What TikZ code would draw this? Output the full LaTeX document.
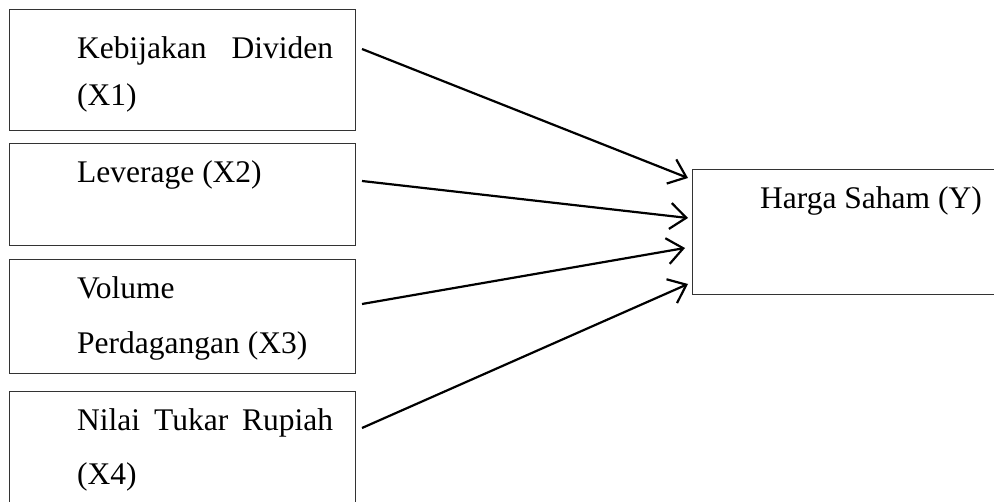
\documentclass[tikz,border=0pt]{standalone}
\usepackage{fontspec}
\setmainfont{Liberation Serif}
\usetikzlibrary{arrows.meta}
\begin{document}
\begin{tikzpicture}[x=1pt,y=-1pt,
  box/.style={draw=black!80, line width=1.3pt, inner sep=0pt, anchor=north west, minimum width=346pt},
  lbl/.style={anchor=base west, inner sep=0pt, font=\fontsize{31.5}{38}\selectfont},
  arr/.style={line width=2.2pt, -{Straight Barb[length=16pt,width=26pt,line width=2.2pt]}}]
\clip (0,0) rectangle (994,502);
\fill[white] (0,0) rectangle (994,502);
% boxes
\node[box, minimum height=121pt] (b1) at (9,9) {};
\node[box, minimum height=102pt] (b2) at (9,143) {};
\node[box, minimum height=114pt] (b3) at (9,259) {};
\node[box, minimum height=130pt] (b4) at (9,391) {};
\node[box, minimum width=330pt, minimum height=125pt] (yb) at (692,169) {};
% labels
\node[lbl] (t1a) at (77,59) {\makebox[256pt][l]{Kebijakan\hfill Dividen}};
\node[lbl] (t1b) at (77,106) {(X1)};
\node[lbl] (t2) at (77,183) {Leverage (X2)};
\node[lbl] (t3a) at (77,299) {Volume};
\node[lbl] (t3b) at (77,354) {Perdagangan (X3)};
\node[lbl] (t4a) at (77,431) {\makebox[256pt][l]{Nilai\hfill Tukar\hfill Rupiah}};
\node[lbl] (t4b) at (77,485) {(X4)};
\node[lbl] (ty) at (760,209) {Harga Saham (Y)};
% connector endpoints
\coordinate (s1) at (362,49);
\coordinate (s2) at (362,181);
\coordinate (s3) at (362,304);
\coordinate (s4) at (362,428);
\coordinate (e1) at (688,178);
\coordinate (e2) at (688,218);
\coordinate (e3) at (685,248);
\coordinate (e4) at (688,284);
\draw[arr] (s1) -- (e1);
\draw[arr] (s2) -- (e2);
\draw[arr] (s3) -- (e3);
\draw[arr] (s4) -- (e4);
\end{tikzpicture}
\end{document}
